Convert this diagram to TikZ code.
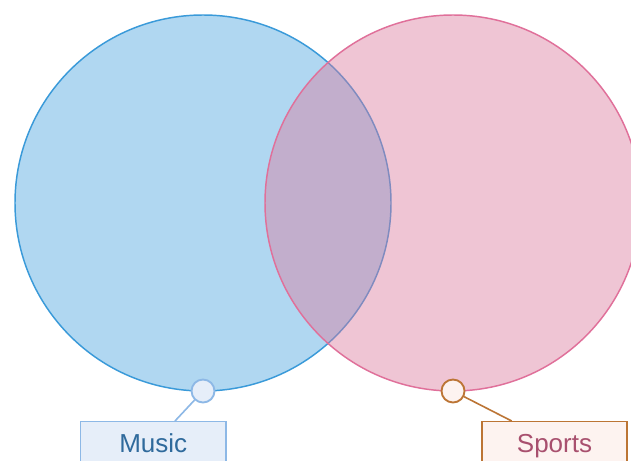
\documentclass[tikz,border=0pt]{standalone}
\usepackage{fontspec}
\setmainfont{Liberation Sans}
\definecolor{bluebase}{HTML}{3A9BDC}
\definecolor{bluestroke}{HTML}{3A9AD9}
\definecolor{pinkbase}{HTML}{DC799D}
\definecolor{pinkstroke}{HTML}{E0709A}
\definecolor{mfill}{HTML}{E6EEF9}
\definecolor{mstroke}{HTML}{8DB8E6}
\definecolor{mtext}{HTML}{2F6A9C}
\definecolor{sfill}{HTML}{FDF3F0}
\definecolor{sstroke}{HTML}{BC7535}
\definecolor{stext}{HTML}{A8506E}
\begin{document}
\begin{tikzpicture}[x=0.75pt,y=-0.75pt,
  setcircle/.style={line width=1.1pt},
  marker/.style={circle,draw,line width=1.4pt,minimum size=17.25pt,inner sep=0pt},
  labelbox/.style={draw,line width=1.1pt,minimum width=109pt,inner xsep=0pt,inner ysep=9pt,
     text height=14pt,text depth=4pt,font=\fontsize{19.5pt}{22pt}\selectfont,anchor=north},
  leader/.style={line width=1.2pt}]
\useasboundingbox (0,0) rectangle (631,460);
\fill[white] (0,0) rectangle (631,460);
\path[setcircle,draw=bluestroke,fill=bluebase,fill opacity=0.4] (203,203) circle[radius=188];
\path[setcircle,draw=pinkstroke,fill=pinkbase,fill opacity=0.43] (453,203) circle[radius=188];
\node[labelbox,draw=mstroke,fill=mfill,text=mtext] (musicbox) at (153.2,421) {Music};
\node[labelbox,draw=sstroke,fill=sfill,text=stext] (sportsbox) at (554.5,421) {Sports};
\coordinate (mconn) at (175,421);
\coordinate (sconn) at (511.7,421);
\node[marker,draw=mstroke,fill=mfill] (mm) at (203,391) {};
\node[marker,draw=sstroke,fill=sfill] (sm) at (453,391) {};
\draw[leader,draw=mstroke] (mm) -- (mconn);
\draw[leader,draw=sstroke] (sm) -- (sconn);
\end{tikzpicture}
\end{document}
